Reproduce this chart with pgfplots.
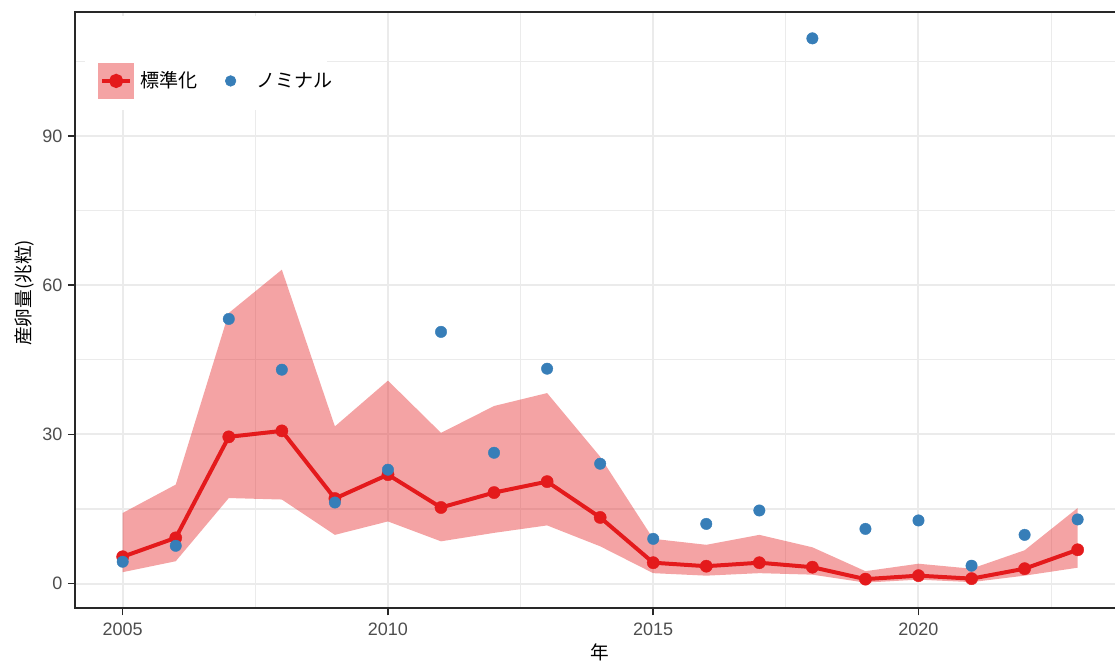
\documentclass[border=0pt]{standalone}
\usepackage{pgfplots}
\pgfplotsset{compat=1.18}
\usepgfplotslibrary{fillbetween}
\usepackage{fontspec}
\setmainfont{Liberation Sans}
\newfontfamily\jp{Noto Sans CJK JP}
\definecolor{setred}{RGB}{228,26,28}
\definecolor{setblue}{RGB}{55,126,184}
\definecolor{gridc}{RGB}{235,235,235}
\definecolor{tickc}{RGB}{77,77,77}
\definecolor{framec}{RGB}{40,40,40}
\definecolor{bandc}{RGB}{244,163,164}
\begin{document}
\begin{tikzpicture}
\begin{axis}[
  name=ax,
  scale only axis,
  width=788.5pt, height=447.75pt,
  xmin=2004.1, xmax=2023.9,
  ymin=-5.0, ymax=114.9,
  xtick={2005,2010,2015,2020},
  ytick={0,30,60,90},
  minor xtick={2007.5,2012.5,2017.5,2022.5},
  minor ytick={15,45,75,105},
  xticklabel style={/pgf/number format/1000 sep={}},
  /pgf/number format/assume math mode=true,
  grid=both,
  major grid style={gridc, line width=1.5pt},
  minor grid style={gridc, line width=0.9pt},
  minor tick length=0pt,
  major tick length=5.25pt,
  tick align=outside,
  xtick pos=left, ytick pos=left,
  tick style={line width=1.1pt, color=framec},
  axis line style={line width=1.5pt, color=framec},
  ticklabel style={font=\fontsize{13.5}{16}\selectfont, color=tickc},
  xticklabel style={inner sep=0pt, yshift=-5.5pt},
  yticklabel style={inner sep=0pt, xshift=-4pt},
  xlabel={\jp 年},
  ylabel={\jp 産卵量(兆粒)},
  xlabel style={at={(rel axis cs:0.5,0)}, anchor=north, inner sep=0pt, yshift=-26pt, font=\fontsize{14}{16}\selectfont},
  ylabel style={at={(rel axis cs:0,0.5)}, anchor=center, inner sep=0pt, xshift=13pt, yshift=37.5pt, font=\fontsize{14}{16}\selectfont},
  legend columns=2,
  legend style={at={(rel axis cs:0.0219,0.8844)}, anchor=west, draw=none, fill=none, inner sep=0pt,
    font=\jp\fontsize{14.3}{16}\selectfont,
    /tikz/every even column/.append style={column sep=8.5pt}},
  legend cell align=left,
]
\fill[white] (rel axis cs:0.0095,0.9933) rectangle (rel axis cs:0.2397,0.8358);

\addplot[name path=up, draw=none, forget plot] coordinates {
(2005,14.2) (2006,19.9) (2007,54.4) (2008,63.1) (2009,31.6) (2010,40.8)
(2011,30.3) (2012,35.7) (2013,38.3) (2014,25.5) (2015,9.0) (2016,7.8)
(2017,9.8) (2018,7.3) (2019,2.5) (2020,4.0) (2021,3.0) (2022,6.7) (2023,15.2)};
\addplot[name path=lo, draw=none, forget plot] coordinates {
(2005,2.3) (2006,4.5) (2007,17.2) (2008,16.9) (2009,9.8) (2010,12.5)
(2011,8.5) (2012,10.2) (2013,11.7) (2014,7.5) (2015,2.1) (2016,1.6)
(2017,2.1) (2018,1.8) (2019,0.2) (2020,0.8) (2021,0.3) (2022,1.6) (2023,3.2)};
\addplot[fill=setred, fill opacity=0.4, draw=none, forget plot] fill between[of=up and lo];

\addplot[setred, line width=3pt, mark=*, mark size=4.6pt, mark options={line width=0.3pt},
  legend image code/.code={
    \fill[bandc] (0pt,-12pt) rectangle (24pt,12pt);
    \draw[setred, line width=2.5pt] (1.5pt,0pt) -- (22.5pt,0pt);
    \fill[setred] (12pt,0pt) circle (3.8pt);
    \path[draw=none,fill=none] (0pt,-12pt) rectangle (28.5pt,12pt);
  }] coordinates {
(2005,5.4) (2006,9.2) (2007,29.5) (2008,30.7) (2009,17.1) (2010,21.9)
(2011,15.3) (2012,18.3) (2013,20.5) (2014,13.3) (2015,4.2) (2016,3.5)
(2017,4.2) (2018,3.3) (2019,0.9) (2020,1.6) (2021,1.0) (2022,3.0) (2023,6.8)};
\addlegendentry{標準化}

\addplot[only marks, mark=*, mark size=4.3pt, mark options={line width=0.3pt}, color=setblue,
  legend image code/.code={
    \path[draw=none,fill=none] (0pt,-12pt) rectangle (31.5pt,12pt);
    \fill[setblue] (14pt,0pt) circle (4pt);
  }] coordinates {
(2005,4.4) (2006,7.6) (2007,53.2) (2008,43.0) (2009,16.3) (2010,22.9)
(2011,50.6) (2012,26.3) (2013,43.2) (2014,24.1) (2015,9.0) (2016,12.0)
(2017,14.7) (2018,109.6) (2019,11.0) (2020,12.7) (2021,3.6) (2022,9.8) (2023,12.9)};
\addlegendentry{ノミナル}
\end{axis}
\pgfresetboundingbox
\path ([xshift=-56.25pt,yshift=-40.5pt]ax.south west) rectangle ([xshift=-7.8pt,yshift=9pt]ax.north east);
\end{tikzpicture}
\end{document}
